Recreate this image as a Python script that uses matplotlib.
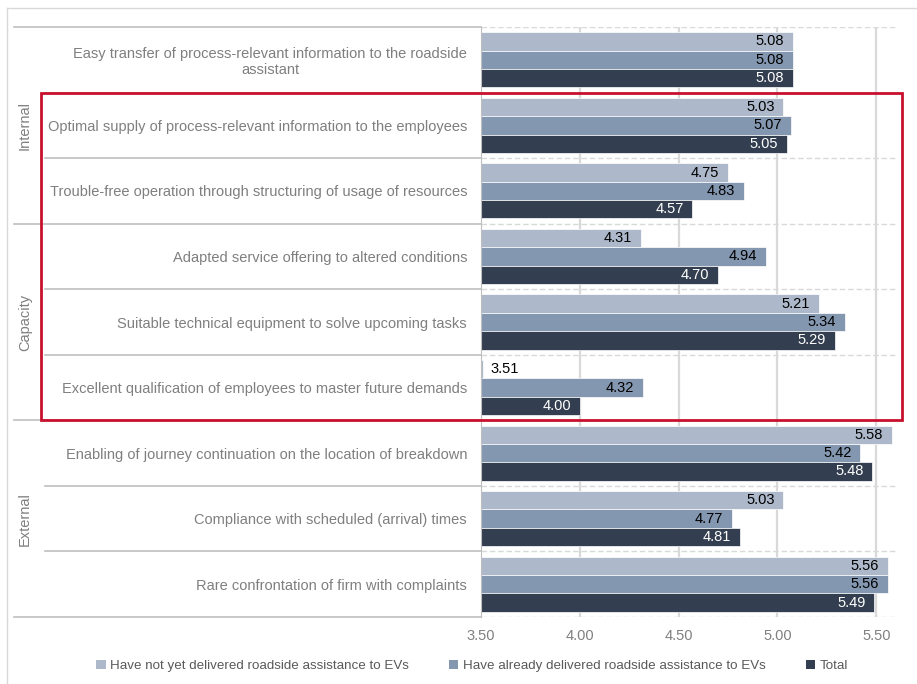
import matplotlib.pyplot as plt
import numpy as np
from matplotlib.lines import Line2D
from matplotlib.patches import Rectangle, Patch

plt.rcParams['font.family'] = ['Liberation Sans', 'DejaVu Sans']

categories = [
    'Easy transfer of process-relevant information to the roadside\nassistant',
    'Optimal supply of process-relevant information to the employees',
    'Trouble-free operation through structuring of usage of resources',
    'Adapted service offering to altered conditions',
    'Suitable technical equipment to solve upcoming tasks',
    'Excellent qualification of employees to master future demands',
    'Enabling of journey continuation on the location of breakdown',
    'Compliance with scheduled (arrival) times',
    'Rare confrontation of firm with complaints',
]
groups = ['Internal', 'Capacity', 'External']
not_yet = [5.08, 5.03, 4.75, 4.31, 5.21, 3.51, 5.58, 5.03, 5.56]
already = [5.08, 5.07, 4.83, 4.94, 5.34, 4.32, 5.42, 4.77, 5.56]
total = [5.08, 5.05, 4.57, 4.70, 5.29, 4.00, 5.48, 4.81, 5.49]
series_names = ['Have not yet delivered roadside assistance to EVs',
                'Have already delivered roadside assistance to EVs',
                'Total']
colors = ['#ADB9CA', '#8497B0', '#333F50']
text_colors = ['black', 'black', 'white']
xticks = [3.5, 4.0, 4.5, 5.0, 5.5]

fig = plt.figure(figsize=(9.17, 6.84), dpi=100)
ax = fig.add_axes([481/917, 1-617/684, 415/917, 590/684])

y = np.arange(len(categories))
h = 0.28
for i, (vals, c, tc) in enumerate(zip([not_yet, already, total], colors, text_colors)):
    pos = y + (i - 1) * h
    widths = np.array(vals) - 3.5
    ax.barh(pos, widths, left=3.5, height=h, color=c, edgecolor='white', linewidth=0.5, zorder=3)
    for p, v in zip(pos, vals):
        if v - 3.5 < 0.2:
            ax.text(v + 0.04, p, f'{v:.2f}', ha='left', va='center', fontsize=10.5, color='black', zorder=4)
        else:
            ax.text(v - 0.045, p, f'{v:.2f}', ha='right', va='center', fontsize=10.5, color=tc, zorder=4)

ax.set_xlim(3.5, 5.6)
ax.set_ylim(len(categories) - 0.5, -0.5)
ax.set_xticks(xticks)
ax.set_xticklabels([f'{t:.2f}' for t in xticks], fontsize=10.5, color='#808080')
ax.set_yticks(y)
ax.set_yticklabels(categories, fontsize=10.5, color='#7F7F7F')
for lab in ax.get_yticklabels():
    lab.set_multialignment('center')
ax.tick_params(axis='both', length=0)
ax.tick_params(axis='y', pad=10)
ax.tick_params(axis='x', pad=9)

for s in ['top', 'right', 'bottom']:
    ax.spines[s].set_visible(False)
ax.spines['left'].set_color('#BFBFBF')
ax.spines['left'].set_zorder(5)

for t in xticks[1:]:
    ax.axvline(t, color='#D9D9D9', lw=1.6, zorder=1)
for b in np.arange(-0.5, len(categories), 1.0):
    ax.axhline(b, color='#D9D9D9', lw=1, ls=(0, (4, 2)), zorder=1)

# category / group separators left of the plot
tr = ax.get_yaxis_transform()
for b in np.arange(-0.5, len(categories), 1.0):
    x0 = -1.125 if (b + 0.5) % 3 == 0 else -1.0506
    ax.add_line(Line2D([x0, 0], [b, b], transform=tr, color='#BFBFBF', lw=1.2, clip_on=False))
for gi, g in enumerate(groups):
    ax.text(-1.099, gi * 3 + 1, g, transform=tr, rotation=90, ha='center', va='center',
            fontsize=10.5, color='#7F7F7F')

# highlight box
ax.add_patch(Rectangle((-1.060, 0.51), 2.0745, 4.98, transform=tr, fill=False,
                       edgecolor='#C8102E', lw=2, clip_on=False, zorder=6))

# chart border
fig.add_artist(Line2D([7/917, 1], [1-8/684, 1-8/684], color='#D9D9D9', lw=1))
fig.add_artist(Line2D([7/917, 7/917], [0, 1-8/684], color='#D9D9D9', lw=1))

handles = [Patch(facecolor=c) for c in colors]
fig.legend(handles, series_names, loc='center', bbox_to_anchor=(0.515, 1-666/684), ncol=3,
           frameon=False, fontsize=9.6, handlelength=0.7, handleheight=0.7,
           handletextpad=0.35, columnspacing=3.0, labelcolor='#595959')

fig.savefig('out.png', dpi=100)
